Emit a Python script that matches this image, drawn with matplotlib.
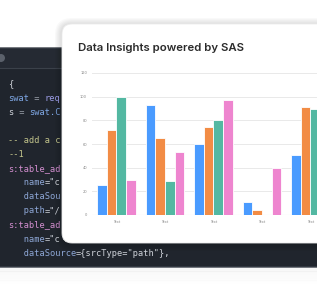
import matplotlib
matplotlib.use('Agg')
import matplotlib.pyplot as plt
from matplotlib.patches import FancyBboxPatch, Rectangle, Circle
import numpy as np

# chart data
categories = ['Text', 'Text', 'Text', 'Text', 'Text']
series_blue = [25, 93, 60, 11, 51]
series_orange = [72, 65, 74, 4, 91]
series_teal = [100, 29, 80, 0, 90]
series_pink = [30, 53, 97, 40, 70]
y_ticks = [0, 20, 40, 60, 80, 100, 120]
title = 'Data Insights powered by SAS'

# code editor lines, (text, colour kind) segments
code_lines = [
    [('{', 'plain')],
    [('swat', 'var'), (' = ', 'op'), ('req', 'var2')],
    [('s', 'plain'), (' = ', 'op'), ('swat.C', 'var')],
    [],
    [('-- add a c', 'comment')],
    [('--1', 'comment')],
    [('s:table_ad', 'call')],
    [('   name', 'key'), ('="c', 'plain')],
    [('   dataSou', 'key')],
    [('   path', 'key'), ('="/', 'plain')],
    [('s:table_ad', 'call')],
    [('   name', 'key'), ('="c', 'plain')],
    [('   dataSource', 'key'), ('={srcType="path"},', 'plain')],
]
code_colors = {
    'plain': '#cfd3da', 'var': '#7fa8e6', 'var2': '#9d9ee8', 'op': '#9aa0aa',
    'comment': '#c3c58c', 'call': '#d48fd0', 'key': '#8ea7d6',
}

W, H = 317, 292
fig = plt.figure(figsize=(W / 100, H / 100), dpi=100)
bg = fig.add_axes([0, 0, 1, 1])
bg.set_xlim(0, W)
bg.set_ylim(H, 0)
bg.axis('off')

# shadow under the editor
for i in range(10):
    bg.add_patch(Rectangle((-10, 266 + i * 1.8), 360, 2, color='#000000',
                           alpha=0.035 * (10 - i) / 10, lw=0, zorder=1))

# editor panel
bg.add_patch(FancyBboxPatch((-10, 48), 360, 219, boxstyle='round,pad=0,rounding_size=3',
                            fc='#20252d', ec='#3b414a', lw=1, zorder=2))
bg.add_patch(Rectangle((-10, 49), 360, 19, fc='#252a33', lw=0, zorder=2.1))
bg.plot([-10, 350], [68, 68], color='#3b414a', lw=0.8, zorder=2.2)
bg.add_patch(Circle((1, 58), 4, fc='#5b616b', lw=0, zorder=2.3))

char_w = 5.2
fs_code = char_w / 0.602 * 0.72
for i, line in enumerate(code_lines):
    y = 84 + i * 14.1
    x = 8.3
    for txt, kind in line:
        bg.text(x, y, txt, family='DejaVu Sans Mono', fontsize=fs_code,
                color=code_colors[kind], va='center', ha='left', zorder=3)
        x += len(txt) * char_w

# card with soft shadow
for i in range(6):
    d = 1 + i * 1.2
    bg.add_patch(FancyBboxPatch((62 - d, 24 - d + 1), 300 + 2 * d, 219 + 2 * d,
                                boxstyle='round,pad=0,rounding_size=%g' % (10 + d),
                                fc='#000000', alpha=0.025, lw=0, zorder=4))
bg.add_patch(FancyBboxPatch((62, 24), 300, 219, boxstyle='round,pad=0,rounding_size=10',
                            fc='white', ec='#ececec', lw=0.6, zorder=5))
bg.text(77.5, 48, title, family='Inter', weight='semibold', fontsize=8.2,
        color='#2b2b2b', va='center', ha='left', zorder=6)

# chart axes, pixel layout: x 92..317, y 73..215
ax = fig.add_axes([92 / W, 1 - 215 / H, (W - 92) / W, 142 / H])
ax.set_facecolor('none')
x = np.arange(len(categories))
w = 0.2
cols = ['#4a9bff', '#f28c45', '#53b8a2', '#ee85cf']
for k, (vals, c) in enumerate(zip([series_blue, series_orange, series_teal, series_pink], cols)):
    ax.bar(x + (k - 1.5) * w, vals, width=w, color=c, edgecolor='white', linewidth=0.6, zorder=3)
ax.set_xlim(-0.505, (W - 116.5) / 48.5)
ax.set_ylim(0, 120)
ax.set_yticks(y_ticks)
ax.set_yticklabels([str(t) for t in y_ticks])
ax.set_xticks(x)
ax.set_xticklabels(categories)
ax.grid(axis='y', color='#e9e9e9', lw=0.7, zorder=0)
ax.tick_params(axis='both', length=0, labelsize=2.6, labelcolor='#8a8a8a')
ax.tick_params(axis='y', pad=3.5)
ax.tick_params(axis='x', pad=3.5)
for s in ax.spines.values():
    s.set_visible(False)
ax.axhline(0, color='#e2e2e2', lw=0.8, zorder=2)

fig.savefig('out.png', dpi=100)
